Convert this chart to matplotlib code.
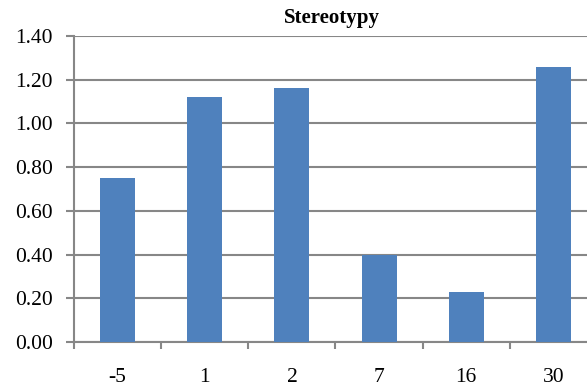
import numpy as np
import matplotlib
matplotlib.use("Agg")
import matplotlib.pyplot as plt

# stereotypy score per condition
labels = ["-5", "1", "2", "7", "16", "30"]
values = [0.75, 1.12, 1.16, 0.40, 0.23, 1.26]
yticks = [0.0, 0.2, 0.4, 0.6, 0.8, 1.0, 1.2, 1.4]

plt.rcParams["font.family"] = ["Liberation Serif", "DejaVu Serif"]
GRID = "#878787"

fig = plt.figure(figsize=(5.87, 3.89), dpi=100)
# plot area runs a little past the right edge of the figure
ax = fig.add_axes([74 / 587, 1 - 342 / 389, 523 / 587, 306 / 389])

x = np.arange(len(values))
ax.bar(x, values, width=0.4, color="#4F81BD", zorder=3)

ax.set_xlim(-0.5, len(values) - 0.5)
ax.set_ylim(0, 1.4)
ax.set_yticks(yticks)
ax.set_yticklabels([f"{v:.2f}" for v in yticks], fontsize=15.5)
ax.yaxis.grid(True, color=GRID, lw=1.5, zorder=0)

# category boundaries get tick marks, centres get the labels
ax.set_xticks(np.arange(-0.5, len(values) - 0.5, 1.0))
ax.set_xticklabels([])
ax.set_xticks(x, minor=True)
ax.set_xticklabels(labels, minor=True, fontsize=15.5)
ax.tick_params(axis="x", which="major", length=5, width=1.5, color=GRID, direction="out")
ax.tick_params(axis="x", which="minor", length=0, pad=19)
ax.tick_params(axis="y", length=6, width=1.5, color=GRID, pad=9)

for side in ["top", "right"]:
    ax.spines[side].set_visible(False)
for side in ["left", "bottom"]:
    ax.spines[side].set_color(GRID)
    ax.spines[side].set_linewidth(1.5)

fig.text(332 / 587, 1 - 18 / 389, "Stereotypy", ha="center", va="center",
         fontsize=15, fontweight="bold")

fig.savefig("out.png", dpi=100)
